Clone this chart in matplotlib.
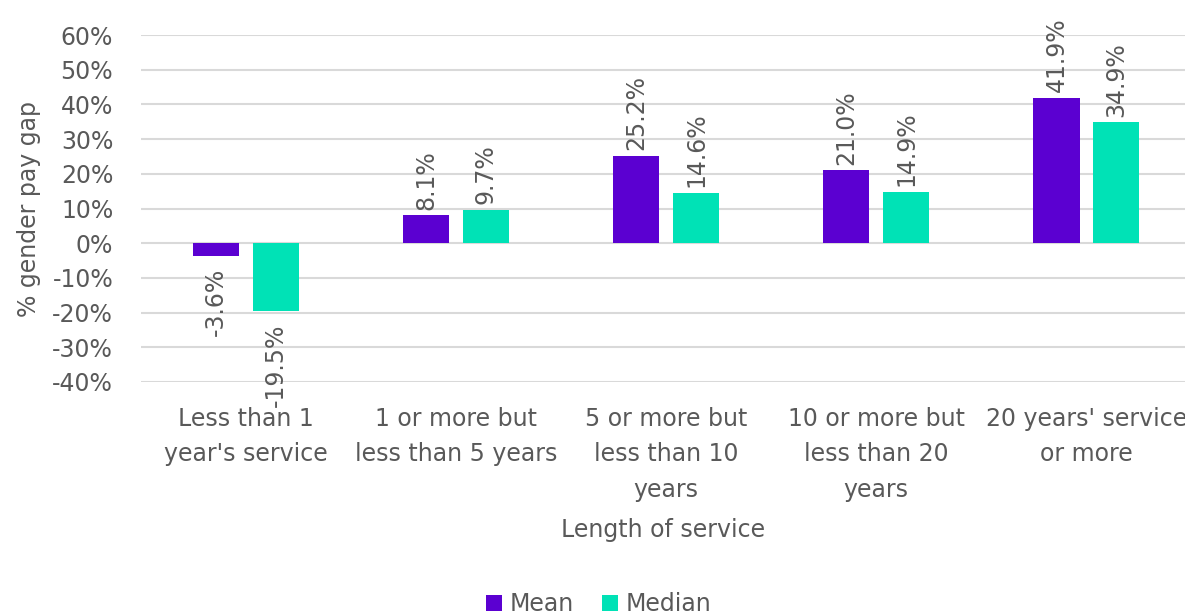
import matplotlib.pyplot as plt
import numpy as np

categories = ["Less than 1\nyear's service", "1 or more but\nless than 5 years",
              "5 or more but\nless than 10\nyears", "10 or more but\nless than 20\nyears",
              "20 years' service\nor more"]
mean_gap = [-3.6, 8.1, 25.2, 21.0, 41.9]
median_gap = [-19.5, 9.7, 14.6, 14.9, 34.9]
yticks = [-40, -30, -20, -10, 0, 10, 20, 30, 40, 50, 60]

purple = '#5b00d1'
teal = '#00e2b6'
grey = '#595959'

plt.rcParams['font.family'] = ['DejaVu Sans']
plt.rcParams['font.size'] = 17

fig = plt.figure(figsize=(11.85, 6.16), dpi=100)
ax = fig.add_axes([0.119, 0.38, 0.881, 0.563])

x = np.arange(len(categories))
w = 0.22
off = 0.142
b1 = ax.bar(x - off, mean_gap, w, color=purple, label='Mean', zorder=3)
b2 = ax.bar(x + off, median_gap, w, color=teal, label='Median', zorder=3)

for bars, vals in ((b1, mean_gap), (b2, median_gap)):
    for b, v in zip(bars, vals):
        cx = b.get_x() + b.get_width() / 2
        if v >= 0:
            ax.annotate(f'{v:.1f}%', (cx, v), xytext=(0, 4), textcoords='offset points',
                        rotation=90, ha='center', va='bottom', color=grey)
        else:
            ax.annotate(f'{v:.1f}%', (cx, v), xytext=(0, -9), textcoords='offset points',
                        rotation=90, ha='center', va='top', color=grey)

ax.set_xlim(-0.5, 4.47)
ax.set_ylim(-40, 60)
ax.set_yticks(yticks)
ax.set_yticklabels([f'{t}%' for t in yticks], color=grey)
ax.set_xticks(x)
ax.set_xticklabels(categories, color=grey, linespacing=1.6, va='top')
ax.tick_params(axis='both', length=0)
ax.tick_params(axis='x', pad=18)
ax.tick_params(axis='y', pad=20)
ax.grid(axis='y', color='#d9d9d9', linewidth=1.5, zorder=0)
for s in ax.spines.values():
    s.set_visible(False)

ax.set_ylabel('% gender pay gap', color=grey, labelpad=8)
ax.set_xlabel('Length of service', color=grey, labelpad=12)

fig.legend(loc='lower center', bbox_to_anchor=(0.505, -0.035), ncol=2, frameon=False,
           handlelength=0.7, handleheight=0.7, handletextpad=0.3, columnspacing=1.2,
           labelcolor=grey)

fig.savefig('out.png', dpi=100)
